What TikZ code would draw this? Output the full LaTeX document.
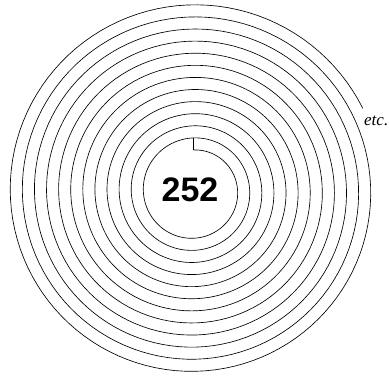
\documentclass[tikz,border=0pt]{standalone}
\usepackage{fontspec}
\setmainfont{Liberation Serif}
\newfontfamily\labelsans{Liberation Sans}

\begin{document}
\begin{tikzpicture}[
    x=1pt, y=-1pt,
    groove/.style={draw=black, line width=0.65pt},
    bignum/.style={inner sep=0pt, font=\labelsans\bfseries\fontsize{34}{34}\selectfont},
    etclabel/.style={inner sep=0pt, anchor=base west, font=\itshape\fontsize{17}{17}\selectfont}
]

\useasboundingbox (0,0) rectangle (389,376);

% ================= Spirale =================
% rayon de depart 41.1, pas 12.1 par tour

\def\rz{41.1}
\def\pitch{12.1}

\coordinate (c)     at (193.5,191.1);
\coordinate (start) at (193.5,150);
\coordinate (lead)  at (193.5,138.3);

\draw[groove] plot[domain=0:4384, samples=1400]
    ({193.5 + (\rz + \x/360*\pitch)*sin(\x)}, {191.1 - (\rz + \x/360*\pitch)*cos(\x)});

\draw[groove] (start) -- (lead);

% ================= Textes =================

\node[bignum]   (num) at (190,189.5) {252};
\node[etclabel] (etc) at (364,125)   {etc.};

\end{tikzpicture}
\end{document}
